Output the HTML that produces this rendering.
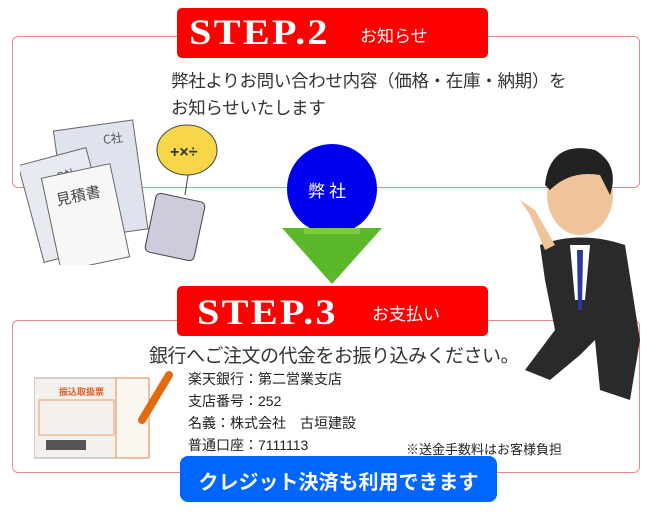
<!DOCTYPE html>
<html><head><meta charset="utf-8"><style>
body{margin:0;width:650px;height:520px;background:#fff;position:relative;overflow:hidden;font-family:"Liberation Sans","Noto Sans CJK JP",sans-serif;}
.a{position:absolute}
.box{position:absolute;border:1.5px solid #e88a8a;border-radius:6px;background:#fff}
.red{position:absolute;background:#f00;border-radius:5px;color:#fff}
.step{position:absolute;font-family:"Liberation Serif",serif;font-weight:bold;font-size:36px;letter-spacing:2px;transform:scaleX(1.12);transform-origin:left}
.t{position:absolute;color:#333;white-space:nowrap}
</style></head><body>
<div class="box" style="left:12px;top:36px;width:626px;height:150px"></div>
<div class="red" style="left:177px;top:8px;width:311px;height:50px">
 <div class="step" style="left:12px;top:3px">STEP.2</div>
 <div class="t" style="left:183px;top:14px;color:#fff;font-size:17px">お知らせ</div>
</div>
<div class="t" style="left:171px;top:68px;font-size:17.5px;line-height:27px;letter-spacing:-0.3px">弊社よりお問い合わせ内容（価格・在庫・納期）を<br>お知らせいたします</div>

<svg class="a" style="left:20px;top:115px" width="220" height="150">
 <rect x="40" y="10" width="80" height="110" fill="#dfe3ee" stroke="#666" transform="rotate(-8 80 60)"/>
 <text x="88" y="30" font-size="12" fill="#555" font-family="Noto Sans CJK JP" transform="rotate(-8 80 60)">C社</text>
 <rect x="10" y="40" width="70" height="100" fill="#e8eaf2" stroke="#666" transform="rotate(-15 45 90)"/>
 <text x="45" y="65" font-size="11" fill="#444" font-family="Noto Sans CJK JP" transform="rotate(-15 45 90)">B社</text>
 <rect x="30" y="55" width="70" height="95" fill="#f7f7f7" stroke="#666" transform="rotate(-12 65 100)"/>
 <text x="40" y="85" font-size="15" fill="#444" font-family="Noto Sans CJK JP" transform="rotate(-12 65 100)">見積書</text>
 <ellipse cx="167" cy="35" rx="30" ry="25" fill="#f7d64a" stroke="#444"/>
 <text x="150" y="42" font-size="16" font-weight="bold" fill="#333">+×÷</text>
 <line x1="168" y1="60" x2="165" y2="80" stroke="#444"/>
 <rect x="130" y="82" width="50" height="60" rx="5" fill="#ccd" stroke="#444" transform="rotate(12 155 112)"/>
</svg>

<div class="a" style="left:287px;top:144px;width:90px;height:90px;border-radius:50%;background:#0000ee"></div>
<div class="t" style="left:308px;top:177px;color:#fff;font-size:17px;letter-spacing:4px">弊社</div>
<svg class="a" style="left:282px;top:228px" width="100" height="58"><polygon points="0,0 100,0 50,56" fill="#5bb82a"/><rect x="22" y="0" width="56" height="6" fill="#7acc3a"/></svg>

<div class="box" style="left:12px;top:320px;width:626px;height:151px"></div>
<div class="red" style="left:177px;top:286px;width:311px;height:50px">
 <div class="step" style="left:20px;top:5px">STEP.3</div>
 <div class="t" style="left:195px;top:14px;color:#fff;font-size:17px">お支払い</div>
</div>
<div class="t" style="left:149px;top:341px;font-size:19px;letter-spacing:-0.5px">銀行へご注文の代金をお振り込みください。</div>
<div class="t" style="left:188px;top:368px;font-size:14px;line-height:22px;color:#222">楽天銀行：第二営業支店<br>支店番号：252<br>名義：株式会社　古垣建設<br>普通口座：7111113</div>
<div class="t" style="left:406px;top:439px;font-size:13px;color:#222">※送金手数料はお客様負担</div>
<svg class="a" style="left:34px;top:370px" width="150" height="90">
 <rect x="0" y="8" width="115" height="80" fill="#f4f1ec" stroke="#aaa"/>
 <rect x="82" y="8" width="33" height="80" fill="#fbf6ef" stroke="#e08a50"/>
 <text x="25" y="25" font-size="9" fill="#e05a20" font-weight="bold" font-family="Noto Sans CJK JP">振込取扱票</text>
 <rect x="5" y="30" width="75" height="35" fill="none" stroke="#e9a070"/>
 <rect x="12" y="70" width="40" height="10" fill="#555"/>
 <line x1="135" y1="5" x2="108" y2="50" stroke="#e46a10" stroke-width="8" stroke-linecap="round"/>
</svg>

<svg class="a" style="left:500px;top:140px" width="150" height="260">
 <ellipse cx="80" cy="55" rx="33" ry="40" fill="#f0c49a"/>
 <path d="M45,45 Q50,0 95,10 Q120,25 110,55 L100,35 Q70,30 50,50Z" fill="#222"/>
 <path d="M40,105 Q80,90 125,105 L140,200 L130,260 L100,250 L95,200 L80,215 L50,240 L25,230 L55,190 L45,140Z" fill="#2a2a2a"/>
 <polygon points="70,105 90,105 85,160 75,160" fill="#fff"/>
 <polygon points="77,110 83,110 82,170 78,170" fill="#2a3a9a"/>
 <path d="M20,60 L30,75 L45,110 L55,105 L35,70 Z" fill="#f0c49a"/>
</svg>

<div class="a" style="left:180px;top:456px;width:317px;height:46px;background:#0066ff;border-radius:8px"></div>
<div class="t" style="left:180px;top:466px;width:317px;text-align:center;color:#fff;font-size:20px;font-weight:bold">クレジット決済も利用できます</div>
</body></html>
